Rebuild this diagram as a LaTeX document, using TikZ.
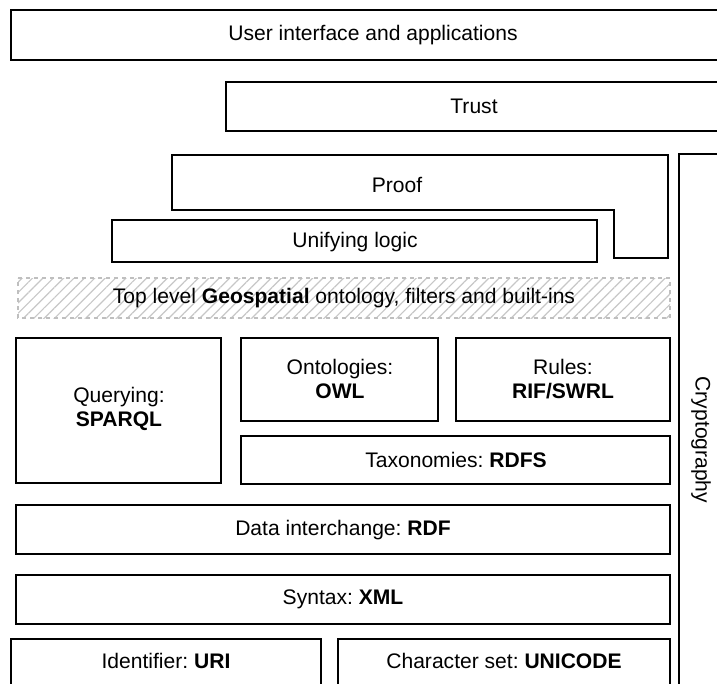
\documentclass[tikz,border=0pt]{standalone}
\usepackage{fontspec}
\setmainfont{Liberation Sans}
\usetikzlibrary{patterns.meta}
\frenchspacing

\begin{document}
\begin{tikzpicture}[x=0.75pt,y=0.75pt,yscale=-1,xscale=1,line width=0.8pt,
  font=\fontsize{15.8}{17.5}\selectfont]
\path[use as bounding box] (0,0) rectangle (717,684);
\clip (0,0) rectangle (717,684);

%Shape: Rectangle [user interface]
\draw   (11,10) -- (740,10) -- (740,60) -- (11,60) -- cycle ;
%Shape: Rectangle [trust]
\draw   (226,82) -- (740,82) -- (740,131) -- (226,131) -- cycle ;
%Shape: Polygon [cryptography]
\draw   (740,154) -- (679,154) -- (679,700) ;
%Shape: Polygon [proof]
\draw   (172,155) -- (668,155) -- (668,258) -- (614,258) -- (614,210) -- (172,210) -- cycle ;
%Shape: Rectangle [unifying logic]
\draw   (112,220) -- (597,220) -- (597,262) -- (112,262) -- cycle ;
%Shape: Rectangle [geospatial, hatched]
\path [pattern={Lines[angle=45,distance=5.5pt,line width=0.9pt]},pattern color=black!22]
  (18,278) rectangle (670,318) ;
\draw [black!25,dashed,line width=1.2pt] (18,278) -- (670,278) -- (670,318) -- (18,318) -- cycle ;
%Shape: Rectangle [querying]
\draw   (16,338) -- (221,338) -- (221,483) -- (16,483) -- cycle ;
%Shape: Rectangle [ontologies]
\draw   (241,338) -- (438,338) -- (438,421) -- (241,421) -- cycle ;
%Shape: Rectangle [rules]
\draw   (456,338) -- (670,338) -- (670,421) -- (456,421) -- cycle ;
%Shape: Rectangle [taxonomies]
\draw   (241,436) -- (670,436) -- (670,484) -- (241,484) -- cycle ;
%Shape: Rectangle [data interchange]
\draw   (16,505) -- (670,505) -- (670,554) -- (16,554) -- cycle ;
%Shape: Rectangle [syntax]
\draw   (16,575) -- (670,575) -- (670,624) -- (16,624) -- cycle ;
%Shape: Rectangle [identifier]
\draw   (11,639) -- (321,639) -- (321,700) -- (11,700) -- cycle ;
%Shape: Rectangle [character set]
\draw   (338,639) -- (670,639) -- (670,700) -- (338,700) -- cycle ;

% Text Node
\draw (373,35) node (ui) [inner sep=0.75pt] [align=center] {User interface and applications};
% Text Node
\draw (474,106) node (trust) [inner sep=0.75pt] [align=center] {Trust};
% Text Node
\draw (397,185) node (proof) [inner sep=0.75pt] [align=center] {Proof};
% Text Node
\draw (355,242) node (logic) [inner sep=0.75pt] [align=center] {Unifying logic};
% Text Node
\draw (344,298) node (geo) [inner sep=0.75pt] [align=center] {Top level \textbf{Geospatial} ontology, filters and built-ins};
% Text Node
\draw (119,409) node (query) [inner sep=0.75pt] [align=center] {Querying:\\\textbf{SPARQL}};
% Text Node
\draw (340,379) node (onto) [inner sep=0.75pt] [align=center] {Ontologies:\\\textbf{OWL}};
% Text Node
\draw (563,379) node (rules) [inner sep=0.75pt] [align=center] {Rules:\\\textbf{RIF/SWRL}};
% Text Node
\draw (456,460) node (taxo) [inner sep=0.75pt] [align=center] {Taxonomies: \textbf{RDFS}};
% Text Node
\draw (343,530) node (rdf) [inner sep=0.75pt] [align=center] {Data interchange: \textbf{RDF}};
% Text Node
\draw (343,599) node (xml) [inner sep=0.75pt] [align=center] {Syntax: \textbf{XML}};
% Text Node
\draw (166,661) node (uri) [inner sep=0.75pt] [align=center] {Identifier: \textbf{URI}};
% Text Node
\draw (504,661) node (unicode) [inner sep=0.75pt] [align=center] {Character set: \textbf{UNICODE}};
% Text Node
\draw (701,440) node (crypto) [inner sep=0.75pt] [rotate=-90] {Cryptography};

\end{tikzpicture}
\end{document}
